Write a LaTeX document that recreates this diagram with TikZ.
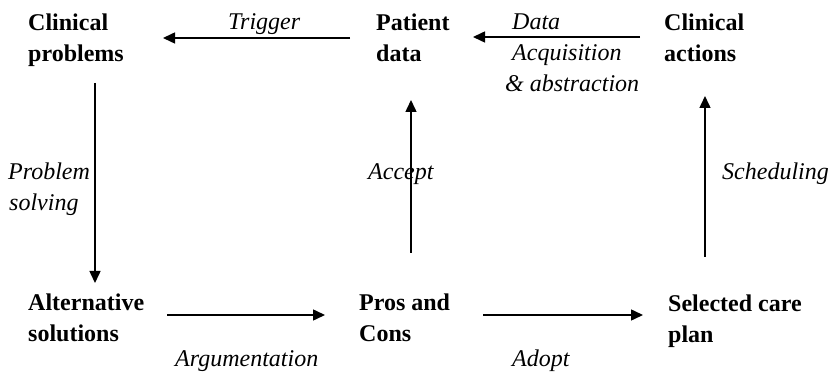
\documentclass[tikz,border=0pt]{standalone}
\usepackage{fontspec}
\setmainfont{Liberation Serif}
\usetikzlibrary{arrows.meta}
\begin{document}
\begin{tikzpicture}[x=1pt,y=-1pt,
  concept/.style={font=\fontsize{24}{31}\selectfont\bfseries, align=left,
    anchor=base west, inner sep=0pt},
  relation/.style={font=\fontsize{24}{31}\selectfont\itshape, align=left,
    anchor=base west, inner sep=0pt},
  flow/.style={-{Triangle[length=12pt,width=11pt]}, line width=1.5pt}]
\useasboundingbox (0,0) rectangle (833,374);

% concepts of the care cycle (placed at the baseline of their last line)
\node[concept] (problems)  at (28,62)   {Clinical\\problems};
\node[concept] (patient)   at (376,62)  {Patient\\data};
\node[concept] (actions)   at (664,62)  {Clinical\\actions};
\node[concept] (solutions) at (28,341)  {Alternative\\solutions};
\node[concept] (pros)      at (359,341) {Pros and\\Cons};
\node[concept] (plan)      at (668,342) {Selected care\\plan};

% labels of the transitions
\node[relation] (trigger)  at (228,30)  {Trigger};
\node[relation] (acquire)  at (512,92)  {Data\\Acquisition\\\hspace*{-7pt}\& abstraction};
\node[relation] (solving)  at (8,211)   {Problem\\\hspace*{1pt}solving};
\node[relation] (accept)   at (368,180) {Accept};
\node[relation] (schedule) at (722,180) {Scheduling};
\node[relation] (argue)    at (175,366) {Argumentation};
\node[relation] (adopt)    at (512,366) {Adopt};

% end points of the transitions
\coordinate (trigger-s) at (350,38);  \coordinate (trigger-e) at (163,38);
\coordinate (acquire-s) at (640,37);  \coordinate (acquire-e) at (473,37);
\coordinate (solving-s) at (95,83);   \coordinate (solving-e) at (95,283);
\coordinate (accept-s)  at (411,253); \coordinate (accept-e)  at (411,100);
\coordinate (sched-s)   at (705,257); \coordinate (sched-e)   at (705,96);
\coordinate (argue-s)   at (167,315); \coordinate (argue-e)   at (325,315);
\coordinate (adopt-s)   at (483,315); \coordinate (adopt-e)   at (643,315);

\draw[flow] (trigger-s) -- (trigger-e);
\draw[flow] (acquire-s) -- (acquire-e);
\draw[flow] (solving-s) -- (solving-e);
\draw[flow] (accept-s)  -- (accept-e);
\draw[flow] (sched-s)   -- (sched-e);
\draw[flow] (argue-s)   -- (argue-e);
\draw[flow] (adopt-s)   -- (adopt-e);
\end{tikzpicture}
\end{document}
